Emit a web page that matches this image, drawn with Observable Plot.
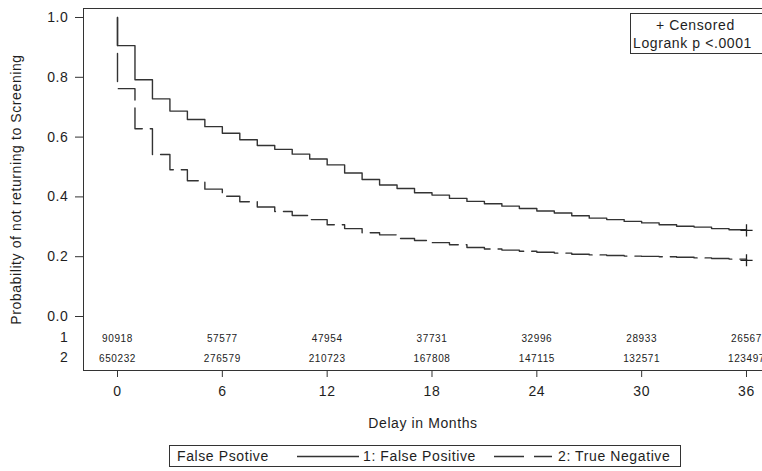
<!DOCTYPE html>
<html><head><meta charset="utf-8">
<script src="https://cdn.jsdelivr.net/npm/d3@7"></script>
<script src="https://cdn.jsdelivr.net/npm/@observablehq/plot@0.6"></script>
<style>
body{margin:0;background:#fff;font-family:"Liberation Sans",Arial,sans-serif;color:#1e1e1e}
#wrap{position:relative;width:762px;height:471px;overflow:hidden;background:#fff}
#inset{position:absolute;left:630px;top:13px;width:160px;height:37px;border:1px solid #333;padding-top:2px;font-size:14px;line-height:18px;letter-spacing:0.6px;background:#fff}
#inset div{position:absolute;white-space:nowrap}
#legend{position:absolute;left:169px;top:445px;width:510px;height:20px;border:1px solid #333;font-size:14px;line-height:20px;letter-spacing:0.6px}
#legend span,#legend svg{position:absolute;top:0}
</style></head><body><div id="wrap"></div>
<script>
// Kaplan-Meier survival estimates (value after the step at each month)
const months = [0,1,2,3,4,5,6,7,8,9,10,11,12,13,14,15,16,17,18,19,20,21,22,23,24,25,26,27,28,29,30,31,32,33,34,35,36];
const fpSurv = [0.906,0.792,0.728,0.687,0.659,0.635,0.613,0.591,0.572,0.559,0.543,0.527,0.507,0.480,0.458,0.440,0.428,0.414,0.406,0.395,0.385,0.377,0.369,0.361,0.353,0.346,0.337,0.329,0.324,0.318,0.313,0.307,0.302,0.299,0.294,0.290,0.288];
const tnSurv = [0.762,0.628,0.542,0.491,0.454,0.426,0.402,0.384,0.366,0.351,0.338,0.324,0.307,0.294,0.280,0.273,0.261,0.254,0.247,0.240,0.231,0.226,0.222,0.218,0.215,0.212,0.208,0.206,0.204,0.202,0.201,0.200,0.198,0.196,0.194,0.192,0.188];
const startSurv = 1.0;
// number at risk table
const riskMonths = [0,6,12,18,24,30,36];
const riskFP = [90918,57577,47954,37731,32996,28933,26567];
const riskTN = [650232,276579,210723,167808,147115,132571,123497];
const rowLabels = ["1","2"];
const yTicks = [0,0.2,0.4,0.6,0.8,1.0];
const groups = ["1: False Positive","2: True Negative"];

const fpData = [{t:0,s:startSurv}, ...months.map((m,i)=>({t:m,s:fpSurv[i]}))];
const tnData = [{t:0,s:startSurv}, ...months.map((m,i)=>({t:m,s:tnSurv[i]}))];
const censored = [
  {t:months[months.length-1], s:fpSurv[fpSurv.length-1]},
  {t:months[months.length-1], s:tnSurv[tnSurv.length-1]}
];

const ink = "#333";
const chart = Plot.plot({
  width:762, height:437,
  marginTop:8, marginLeft:83, marginRight:0, marginBottom:67,
  style:{fontFamily:'"Liberation Sans", Arial, sans-serif', fontSize:"14px", color:"#1e1e1e", background:"#fff", letterSpacing:"0.6px"},
  x:{domain:[-1.946,36.916]},
  y:{domain:[-0.1806,1.0301]},
  marks:[
    Plot.frame({anchor:"top", stroke:ink}),
    Plot.frame({anchor:"left", stroke:ink}),
    Plot.frame({anchor:"bottom", stroke:ink}),
    Plot.axisY({ticks:yTicks, tickFormat:d3.format(".1f"), tickSize:8, tickPadding:7, fontSize:14, stroke:ink,
      label:"Probability of not returning to Screening", labelAnchor:"center", labelOffset:72, labelArrow:"none"}),
    Plot.axisX({ticks:riskMonths, tickSize:7, tickPadding:9, fontSize:14, stroke:ink,
      label:"Delay in Months", labelAnchor:"center", labelOffset:57, labelArrow:"none"}),
    Plot.line(tnData, {x:"t", y:"s", curve:"step-after", stroke:ink, strokeWidth:1.4, strokeDasharray:"28,8"}),
    Plot.line(fpData, {x:"t", y:"s", curve:"step-after", stroke:ink, strokeWidth:1.4}),
    Plot.dot(censored, {x:"t", y:"s", symbol:"plus", r:4, stroke:"#222", strokeWidth:1.3}),
    Plot.text(riskMonths, {x:d=>d, text:(d,i)=>String(riskFP[i]), frameAnchor:"bottom", dy:-29, fontSize:10, fill:"#222", ariaLabel:"risk"}),
    Plot.text(riskMonths, {x:d=>d, text:(d,i)=>String(riskTN[i]), frameAnchor:"bottom", dy:-9, fontSize:10, fill:"#222", ariaLabel:"risk"}),
    Plot.text([rowLabels[0]], {text:d=>d, frameAnchor:"bottom-left", dx:-15, dy:-29, textAnchor:"end", fontSize:14, fill:"#1e1e1e"}),
    Plot.text([rowLabels[1]], {text:d=>d, frameAnchor:"bottom-left", dx:-15, dy:-9, textAnchor:"end", fontSize:14, fill:"#1e1e1e"})
  ]
});
document.getElementById("wrap").appendChild(chart);
d3.select(chart).selectAll('g[aria-label="risk"] text').attr("letter-spacing","1.9px");

const wrap = document.getElementById("wrap");
const inset = document.createElement("div");
inset.id = "inset";
inset.innerHTML = '<div style="left:25px;top:2px">+ Censored</div><div style="left:2px;top:20px">Logrank p &lt;.0001</div>';
wrap.appendChild(inset);

const lg = document.createElement("div");
lg.id = "legend";
lg.innerHTML = `<span style="left:7px">False Psotive</span>
<svg style="left:127px" width="62" height="20"><line x1="0" x2="62" y1="10.5" y2="10.5" stroke="${ink}" stroke-width="1.4"/></svg>
<span style="left:193px">${groups[0]}</span>
<svg style="left:324px" width="58" height="20"><line x1="0" x2="58" y1="10.5" y2="10.5" stroke="${ink}" stroke-width="1.4" stroke-dasharray="30,10"/></svg>
<span style="left:388px">${groups[1]}</span>`;
wrap.appendChild(lg);
</script></body></html>
